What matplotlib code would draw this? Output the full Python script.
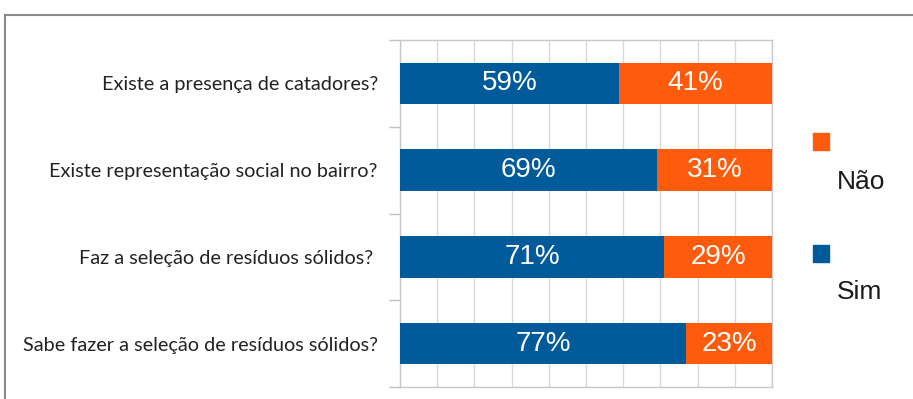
import matplotlib
matplotlib.use("Agg")
import matplotlib.pyplot as plt
from matplotlib.patches import Rectangle
from matplotlib.lines import Line2D
import numpy as np

categories = [
    "Existe a presença de catadores?",
    "Existe representação social no bairro?",
    "Faz a seleção de resíduos sólidos? ",
    "Sabe fazer a seleção de resíduos sólidos?",
]
sim = [59, 69, 71, 77]
nao = [41, 31, 29, 23]
series_names = ["Não", "Sim"]

BLUE = "#015A9A"
ORANGE = "#FF5B0C"
GRID = "#d9d9d9"

fig = plt.figure(figsize=(9.13, 3.99), dpi=100)
ax = fig.add_axes([400 / 913, 1 - 387 / 399, 372 / 913, 347 / 399])

y = np.arange(len(categories))
ax.barh(y, sim, height=0.48, color=BLUE, zorder=3)
ax.barh(y, nao, left=sim, height=0.48, color=ORANGE, zorder=3)

for i in range(len(categories)):
    ax.text(sim[i] / 2, y[i], f"{sim[i]}%", ha="center", va="center",
            color="white", fontsize=20, family="Liberation Sans", zorder=4)
    ax.text(sim[i] + nao[i] / 2, y[i], f"{nao[i]}%", ha="center", va="center",
            color="white", fontsize=20, family="Liberation Sans", zorder=4)

ax.set_xlim(0, 100)
ax.set_ylim(len(categories) - 0.5, -0.5)
ax.set_xticks(np.arange(0, 101, 10))
ax.tick_params(axis="x", length=0, labelbottom=False)
ax.grid(axis="x", color=GRID, linewidth=1, zorder=0)
ax.set_yticks(y)
ax.set_yticklabels(categories, family="Lato", fontsize=14.3, color="#222222")
ax.set_yticks(np.arange(-0.5, len(categories), 1), minor=True)
ax.tick_params(axis="y", which="major", length=0, pad=16)
ax.tick_params(axis="y", which="minor", length=8, color="#c0c0c0", width=1)
for s in ax.spines.values():
    s.set_color("#c8c8c8")
    s.set_linewidth(1)

# outer frame
fig.add_artist(Line2D([5 / 913, 1.0], [1 - 15 / 399] * 2, transform=fig.transFigure,
                      color="#8a8a8a", linewidth=1.5))
fig.add_artist(Line2D([5 / 913] * 2, [0, 1 - 15 / 399], transform=fig.transFigure,
                      color="#8a8a8a", linewidth=1.5))

# legend
leg_colors = [ORANGE, BLUE]
leg_sq_y = [133, 245]
leg_txt_y = [182, 292]
for name, c, sy, ty in zip(series_names, leg_colors, leg_sq_y, leg_txt_y):
    fig.add_artist(Rectangle((813 / 913, 1 - (sy + 17) / 399), 16 / 913, 17 / 399,
                             transform=fig.transFigure, color=c))
    fig.text(837 / 913, 1 - ty / 399, name, ha="left", va="center",
             fontsize=19, family="Liberation Sans", color="#1a1a1a")

fig.savefig("out.png", dpi=100)
